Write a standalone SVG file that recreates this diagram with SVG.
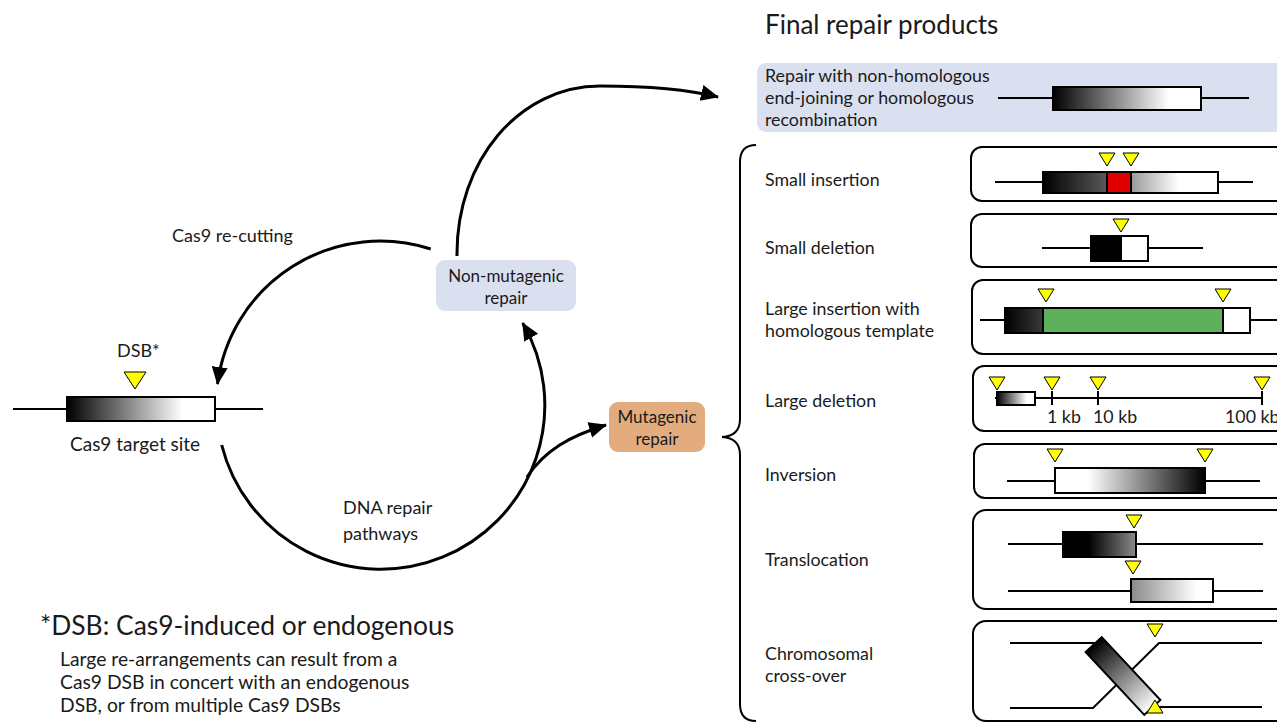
<svg xmlns="http://www.w3.org/2000/svg" xmlns:xlink="http://www.w3.org/1999/xlink" width="1277" height="723" viewBox="0 0 1277 723">
  <style>
    text { font-family: Lato, "Open Sans", "Liberation Sans", sans-serif; fill: #1a1a1a; }
    .lbl { font-size: 17.8px; }
    .box-lbl { font-size: 17px; text-anchor: middle; }
    .title { font-size: 26px; }
    .note { font-size: 26.4px; }
    .note-sub { font-size: 19.3px; }
    .panel { fill: #fff; stroke: #000; stroke-width: 2; }
    .dna { stroke: #000; stroke-width: 2; fill: none; }
    .gene { stroke: #000; stroke-width: 2; }
    .cut { fill: #ffff00; stroke: #000; stroke-width: 1; }
    .conn { fill: none; stroke: #000; stroke-width: 3; }
  </style>
  <defs>
    <linearGradient id="gGene" x1="0" y1="0" x2="1" y2="0">
      <stop offset="0" stop-color="#000"/>
      <stop offset="0.78" stop-color="#fff"/>
      <stop offset="1" stop-color="#fff"/>
    </linearGradient>
    <linearGradient id="gRev" x1="0" y1="0" x2="1" y2="0">
      <stop offset="0" stop-color="#fff"/>
      <stop offset="0.22" stop-color="#fff"/>
      <stop offset="1" stop-color="#000"/>
    </linearGradient>
    <linearGradient id="gInsL" x1="0" y1="0" x2="1" y2="0">
      <stop offset="0" stop-color="#000"/>
      <stop offset="1" stop-color="#5a5a5a"/>
    </linearGradient>
    <linearGradient id="gInsR" x1="0" y1="0" x2="1" y2="0">
      <stop offset="0" stop-color="#9a9a9a"/>
      <stop offset="0.55" stop-color="#fff"/>
      <stop offset="1" stop-color="#fff"/>
    </linearGradient>
    <linearGradient id="gDark" x1="0" y1="0" x2="1" y2="0">
      <stop offset="0" stop-color="#000"/>
      <stop offset="1" stop-color="#3a3a3a"/>
    </linearGradient>
    <linearGradient id="gTransA" x1="0" y1="0" x2="1" y2="0">
      <stop offset="0" stop-color="#000"/>
      <stop offset="0.35" stop-color="#000"/>
      <stop offset="1" stop-color="#8a8a8a"/>
    </linearGradient>
    <linearGradient id="gTransB" x1="0" y1="0" x2="1" y2="0">
      <stop offset="0" stop-color="#8a8a8a"/>
      <stop offset="0.8" stop-color="#fff"/>
      <stop offset="1" stop-color="#fff"/>
    </linearGradient>
    <linearGradient id="gCross" x1="0" y1="0" x2="1" y2="0">
      <stop offset="0" stop-color="#000"/>
      <stop offset="1" stop-color="#fff"/>
    </linearGradient>
    <path id="tri" d="M-8,0 L8,0 L0,13 Z"/>
    <path id="triBig" d="M-11,0 L11,0 L0,17 Z"/>
    <marker id="arrow" markerUnits="userSpaceOnUse" markerWidth="20" markerHeight="18" refX="17" refY="8" orient="auto">
      <path d="M0,0 L18,8 L0,16 Z" fill="#000"/>
    </marker>
  </defs>

  <!-- Cas9 target site -->
  <g id="target-site">
    <line class="dna" x1="13" y1="409" x2="263" y2="409"/>
    <rect class="gene" x="67" y="397" width="148" height="24" fill="url(#gGene)"/>
    <use href="#triBig" x="135" y="372" class="cut"/>
    <text class="lbl" x="117" y="357" style="font-size:18px">DSB*</text>
    <text class="lbl" x="70" y="451" style="font-size:19px">Cas9 target site</text>
  </g>

  <!-- pathway nodes -->
  <g id="non-mutagenic">
    <rect x="436" y="260" width="140" height="51" rx="9" fill="#dae0ef"/>
    <text class="box-lbl" x="506" y="282">Non-mutagenic</text>
    <text class="box-lbl" x="506" y="304">repair</text>
  </g>
  <g id="mutagenic">
    <rect x="609" y="402" width="96" height="50" rx="9" fill="#e2ac7e"/>
    <text class="box-lbl" x="657" y="423">Mutagenic</text>
    <text class="box-lbl" x="657" y="445">repair</text>
  </g>

  <!-- connectors -->
  <g id="connectors">
    <path class="conn" d="M 430.7 249 A 164 164 0 0 0 217.5 384" marker-end="url(#arrow)"/>
    <path class="conn" d="M 221.7 445 A 164 164 0 1 0 522.7 323" marker-end="url(#arrow)"/>
    <path class="conn" d="M 527 477 C 545 450, 570 436, 606 425" marker-end="url(#arrow)"/>
    <path class="conn" d="M 457 256 C 456 160, 520 86, 600 86 C 650 86, 690 90, 718 97" marker-end="url(#arrow)"/>
    <path d="M 756 145 Q 740 145 740 162 L 740 419 Q 740 436 722 437 Q 740 438 740 455 L 740 704 Q 740 721 756 721" fill="none" stroke="#000" stroke-width="2"/>
  </g>

  <g id="cycle-labels">
    <text class="lbl" x="172" y="242" style="font-size:18px">Cas9 re-cutting</text>
    <text class="lbl" x="343" y="514" style="font-size:18px">DNA repair</text>
    <text class="lbl" x="343" y="540" style="font-size:18px">pathways</text>
  </g>

  <!-- footnote -->
  <g id="footnote">
    <text class="note" x="40" y="635">*DSB: Cas9-induced or endogenous</text>
    <text class="note-sub" x="60" y="666">Large re-arrangements can result from a</text>
    <text class="note-sub" x="60" y="689">Cas9 DSB in concert with an endogenous</text>
    <text class="note-sub" x="60" y="712">DSB, or from multiple Cas9 DSBs</text>
  </g>

  <!-- final repair products -->
  <text class="title" x="765" y="34">Final repair products</text>

  <g id="repair-intact">
    <rect x="757" y="63" width="540" height="69" rx="9" fill="#dae0ef"/>
    <text class="lbl" x="765" y="82">Repair with non-homologous</text>
    <text class="lbl" x="765" y="104">end-joining or homologous</text>
    <text class="lbl" x="765" y="126">recombination</text>
    <line class="dna" x1="998" y1="98" x2="1249" y2="98"/>
    <rect class="gene" x="1053" y="87" width="148" height="23" fill="url(#gGene)"/>
  </g>

  <g id="small-insertion">
    <text class="lbl" x="765" y="186">Small insertion</text>
    <rect class="panel" x="971" y="147" width="330" height="54" rx="11"/>
    <line class="dna" x1="995" y1="182" x2="1253" y2="182"/>
    <rect class="gene" x="1043" y="172" width="64" height="21" fill="url(#gInsL)"/>
    <rect class="gene" x="1131" y="172" width="87" height="21" fill="url(#gInsR)"/>
    <rect class="gene" x="1107" y="172" width="24" height="21" fill="#e00000"/>
    <use href="#tri" x="1107" y="153" class="cut"/>
    <use href="#tri" x="1131" y="153" class="cut"/>
  </g>

  <g id="small-deletion">
    <text class="lbl" x="765" y="254">Small deletion</text>
    <rect class="panel" x="971" y="214" width="330" height="53" rx="11"/>
    <line class="dna" x1="1042" y1="248" x2="1203" y2="248"/>
    <rect class="gene" x="1091" y="236" width="30" height="25" fill="#000"/>
    <rect class="gene" x="1121" y="236" width="27" height="25" fill="#fff"/>
    <use href="#tri" x="1121" y="219" class="cut"/>
  </g>

  <g id="large-insertion">
    <text class="lbl" x="765" y="315">Large insertion with</text>
    <text class="lbl" x="765" y="337">homologous template</text>
    <rect class="panel" x="972" y="280" width="330" height="74" rx="11"/>
    <line class="dna" x1="980" y1="320" x2="1277" y2="320"/>
    <rect class="gene" x="1005" y="308" width="38" height="25" fill="url(#gDark)"/>
    <rect class="gene" x="1043" y="308" width="180" height="25" fill="#5fb05a"/>
    <rect class="gene" x="1223" y="308" width="27" height="25" fill="#fff"/>
    <use href="#tri" x="1046" y="289" class="cut"/>
    <use href="#tri" x="1223" y="289" class="cut"/>
  </g>

  <g id="large-deletion">
    <text class="lbl" x="765" y="407">Large deletion</text>
    <rect class="panel" x="973" y="366" width="330" height="65" rx="11"/>
    <line class="dna" x1="995" y1="398" x2="1263" y2="398"/>
    <rect class="gene" x="997" y="392" width="38" height="13" fill="url(#gGene)"/>
    <line class="dna" x1="1052" y1="391" x2="1052" y2="405"/>
    <line class="dna" x1="1098" y1="391" x2="1098" y2="405"/>
    <line class="dna" x1="1262" y1="391" x2="1262" y2="405"/>
    <use href="#tri" x="997" y="377" class="cut"/>
    <use href="#tri" x="1052" y="377" class="cut"/>
    <use href="#tri" x="1098" y="377" class="cut"/>
    <use href="#tri" x="1262" y="377" class="cut"/>
    <text class="lbl" x="1047" y="423">1 kb</text>
    <text class="lbl" x="1093" y="423">10 kb</text>
    <text class="lbl" x="1225" y="423">100 kb</text>
  </g>

  <g id="inversion">
    <text class="lbl" x="765" y="481">Inversion</text>
    <rect class="panel" x="974" y="444" width="330" height="54" rx="11"/>
    <line class="dna" x1="1007" y1="481" x2="1260" y2="481"/>
    <rect class="gene" x="1055" y="468" width="150" height="25" fill="url(#gRev)"/>
    <use href="#tri" x="1055" y="449" class="cut"/>
    <use href="#tri" x="1205" y="449" class="cut"/>
  </g>

  <g id="translocation">
    <text class="lbl" x="765" y="566">Translocation</text>
    <rect class="panel" x="973" y="510" width="330" height="99" rx="13"/>
    <line class="dna" x1="1008" y1="544" x2="1263" y2="544"/>
    <rect class="gene" x="1063" y="532" width="73" height="25" fill="url(#gTransA)"/>
    <line class="dna" x1="1008" y1="591" x2="1263" y2="591"/>
    <rect class="gene" x="1131" y="579" width="82" height="23" fill="url(#gTransB)"/>
    <use href="#tri" x="1134" y="515" class="cut"/>
    <use href="#tri" x="1133" y="561" class="cut"/>
  </g>

  <g id="crossover">
    <text class="lbl" x="765" y="660">Chromosomal</text>
    <text class="lbl" x="765" y="682">cross-over</text>
    <rect class="panel" x="973" y="621" width="330" height="100" rx="13"/>
    <polyline class="dna" points="1010,643 1095,643"/>
    <polyline class="dna" points="1262,643 1159,643 1093,708 1010,708"/>
    <line class="dna" x1="1150" y1="707" x2="1262" y2="707"/>
    <rect class="gene" x="-43" y="-11" width="86" height="22" fill="url(#gCross)" transform="translate(1123 676) rotate(47)"/>
    <use href="#tri" x="1155" y="624" class="cut"/>
    <use href="#tri" x="1155" y="726" class="cut" transform="rotate(180 1155 719.5)"/>
  </g>
</svg>
